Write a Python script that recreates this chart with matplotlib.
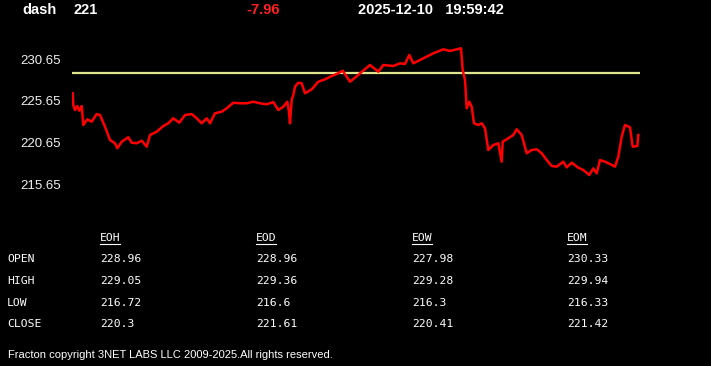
import matplotlib
matplotlib.use('Agg')
import matplotlib.pyplot as plt
from matplotlib.lines import Line2D

W, H = 711, 366

# intraday trace (time in minutes from start of window, price)
t = [0.7, 1.3, 3, 5.3, 7.3, 9.7, 11.3, 15.3, 19.7, 24.7, 28, 33, 38, 43, 45.3, 49.7,
     56.3, 59.7, 64.7, 69.7, 74.7, 78, 84.7, 91.3, 96.3, 101.3, 107.3, 113, 119.7,
     124.7, 129.7, 134.7, 138, 143, 149.7, 154.7, 161.3, 168, 174.7, 181.3, 188,
     194.7, 201.3, 206.3, 211.3, 215.3, 216.7, 218, 219.7, 221.3, 223, 226.3, 229.7,
     233, 239.7, 246.3, 253, 259.7, 264.7, 270.7, 274.7, 278, 286.3, 288, 298, 306.3,
     311.3, 321.3, 328, 333, 337.3, 341.3, 351.3, 361.3, 371.3, 378, 384.7, 389,
     390.7, 393, 394.7, 397.3, 399.7, 402, 406.3, 409.7, 413, 416.3, 421.3, 426.3,
     429.7, 430.7, 436.3, 441.3, 444.7, 449.7, 454.7, 459.7, 464.7, 469.7, 474.7,
     479.7, 484.7, 491.3, 494.7, 499.7, 506.3, 511.3, 517.3, 521.3, 524.7, 528,
     533, 538, 543, 546.3, 549.7, 553, 558, 560.7, 565.3, 566.3]
price = [226.57, 225.16, 224.56, 225.04, 224.48, 225.04, 222.76, 223.45, 223.16,
         224.08, 223.96, 222.56, 220.96, 220.57, 219.97, 220.76, 221.29, 220.64,
         220.57, 220.88, 220.16, 221.56, 221.96, 222.64, 222.97, 223.57, 223.04,
         223.96, 224.08, 223.57, 222.97, 223.57, 222.97, 224.17, 224.36, 224.77,
         225.44, 225.37, 225.37, 225.56, 225.37, 225.25, 225.52, 224.56, 224.96,
         225.56, 224.56, 222.97, 225.76, 226.36, 227.36, 227.84, 227.77, 226.57,
         227.05, 227.96, 228.25, 228.65, 228.89, 229.28, 228.56, 227.96, 228.77,
         228.97, 229.97, 229.16, 229.97, 229.85, 230.17, 230.09, 231.17, 230.17,
         230.77, 231.37, 231.85, 231.65, 231.85, 231.97, 229.37, 228.17, 224.77,
         225.56, 224.96, 222.97, 222.76, 222.97, 222.37, 219.76, 220.36, 220.57,
         218.36, 220.76, 221.17, 221.56, 222.25, 221.56, 219.37, 219.76, 219.85,
         219.37, 218.56, 217.84, 217.76, 218.36, 217.68, 218.24, 217.64, 217.36,
         216.76, 217.56, 216.96, 218.56, 218.36, 218.08, 217.76, 218.96, 221.36,
         222.76, 222.49, 220.16, 220.24, 221.56]
t_span = 568
ref_level = 228.96
yticks = [215.65, 220.65, 225.65, 230.65]

symbol = 'dash'
last = '221'
change = '-7.96'
stamp = '2025-12-10   19:59:42'

periods = ['EOH', 'EOD', 'EOW', 'EOM']
rows = ['OPEN', 'HIGH', 'LOW', 'CLOSE']
table = {
    'EOH': ['228.96', '229.05', '216.72', '220.3'],
    'EOD': ['228.96', '229.36', '216.6', '221.61'],
    'EOW': ['227.98', '229.28', '216.3', '220.41'],
    'EOM': ['230.33', '229.94', '216.33', '221.42'],
}

fig = plt.figure(figsize=(W / 100, H / 100), dpi=100, facecolor='black')


def fx(px):
    return px / W


def fy(py):
    return 1 - py / H


ax = fig.add_axes([fx(72), fy(190), (640 - 72) / W, 150 / H])
ax.set_facecolor('black')
ax.plot(t, price, color='#ff0000', lw=1.8, zorder=3)
ax.axhline(ref_level, color='#dfe58f', lw=1.6, zorder=2)
ax.set_xlim(0, t_span)
ax.set_ylim(214.96, 232.97)
ax.set_xticks([])
ax.set_yticks(yticks)
ax.set_yticklabels([f'{v:.2f}' for v in yticks])
ax.tick_params(axis='y', length=0, pad=8, labelsize=9.5, labelcolor='#f0f0f0')
for lab in ax.get_yticklabels():
    lab.set_family('Liberation Sans')
for s in ax.spines.values():
    s.set_visible(False)

hdr = dict(color='white', fontsize=10.5, fontweight='bold', family='Liberation Sans',
           va='center', ha='left')
fig.text(fx(22), fy(10), symbol, **hdr)
fig.text(fx(73), fy(10), last, **hdr)
fig.text(fx(246), fy(10), change, **{**hdr, 'color': '#ff2020'})
fig.text(fx(358), fy(10), stamp, **hdr)

mono = dict(color='white', fontsize=8.2, family='DejaVu Sans Mono', va='center', ha='left')
col_x = [100, 256, 412, 567]
row_y = [259, 281, 303, 324]
for cx, p in zip(col_x, periods):
    fig.text(fx(cx), fy(238), p, **mono)
    fig.add_artist(Line2D([fx(cx), fx(cx + 20)], [fy(244), fy(244)],
                          color='white', lw=0.8, transform=fig.transFigure))
    for ry, val in zip(row_y, table[p]):
        fig.text(fx(cx), fy(ry), val, **mono)
for ry, r in zip(row_y, rows):
    fig.text(fx(7), fy(ry), r, **mono)

fig.text(fx(8), fy(355), 'Fracton copyright 3NET LABS LLC 2009-2025.All rights reserved.',
         color='white', fontsize=8.0, family='Liberation Sans',
         va='center', ha='left')

fig.savefig('out.png', dpi=100, facecolor='black')
